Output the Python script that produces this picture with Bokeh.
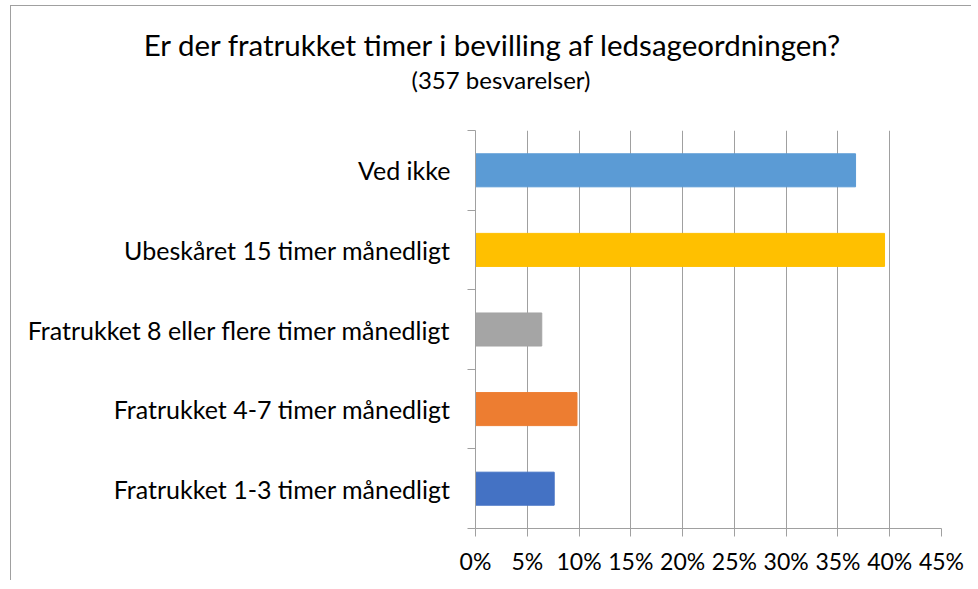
from bokeh.plotting import figure
from bokeh.models import FixedTicker, NumeralTickFormatter, Range1d, Div
from bokeh.layouts import column
from bokeh.embed import file_html
from bokeh.resources import INLINE

# Data (bottom to top)
categories = [
    "Fratrukket 1-3 timer månedligt",
    "Fratrukket 4-7 timer månedligt",
    "Fratrukket 8 eller flere timer månedligt",
    "Ubeskåret 15 timer månedligt",
    "Ved ikke",
]
shares = [0.076, 0.098, 0.064, 0.395, 0.367]
colors = ["#4472C4", "#ED7D31", "#A5A5A5", "#FFC000", "#5B9BD5"]
x_ticks = [0, 0.05, 0.10, 0.15, 0.20, 0.25, 0.30, 0.35, 0.40, 0.45]
title_text = "Er der fratrukket timer i bevilling af ledsageordningen?"
subtitle_text = "(357 besvarelser)"

FONT = "Lato"

n = len(categories)
centers = [i + 0.5 for i in range(n)]

W = 960
DIV_H = 110
BL, BT, FW, FH = 464, 14, 466, 398

header = Div(
    width=W, height=DIV_H, margin=0,
    text=(
        f'<div style="position:relative;width:{W}px;height:{DIV_H}px;">'
        f'<div style="position:absolute;left:0;width:962px;top:24px;text-align:center;'
        f'font-family:Lato;font-size:29.5px;line-height:29.5px;color:black;white-space:nowrap;">'
        f'{title_text}</div>'
        f'<div style="position:absolute;left:9px;width:962px;top:62px;text-align:center;'
        f'font-family:Lato;font-size:24px;line-height:24px;color:black;white-space:nowrap;">'
        f'{subtitle_text}</div>'
        f'</div>'
    ),
    styles={"background-color": "white"},
)

p = figure(
    width=W, height=BT + FH + 52, margin=0,
    x_range=Range1d(0, 0.45), y_range=Range1d(0, n),
    output_backend="svg", toolbar_location=None, title=None,
    min_border_left=BL, min_border_right=W - BL - FW,
    min_border_top=BT, min_border_bottom=52,
)
p.outline_line_color = None
p.background_fill_color = "white"
p.border_fill_color = "white"

p.hbar(y=centers, right=shares, left=0, height=0.415, color=colors)

# x axis
p.xaxis.ticker = FixedTicker(ticks=x_ticks)
p.xaxis.formatter = NumeralTickFormatter(format="0%")
p.xaxis.axis_line_color = "#A0A0A0"
p.xaxis.major_tick_line_color = "#A0A0A0"
p.xaxis.major_tick_out = 8
p.xaxis.major_tick_in = 0
p.xaxis.minor_tick_line_color = None
p.xaxis.major_label_text_font = FONT
p.xaxis.major_label_text_font_size = "23px"
p.xaxis.major_label_text_color = "black"
p.xaxis.major_label_standoff = 10

# y axis
p.yaxis.ticker = FixedTicker(ticks=centers, minor_ticks=list(range(n + 1)))
p.yaxis.major_label_overrides = {c: lab for c, lab in zip(centers, categories)}
p.yaxis.axis_line_color = "#A0A0A0"
p.yaxis.major_tick_line_color = None
p.yaxis.major_tick_out = 0
p.yaxis.major_tick_in = 0
p.yaxis.minor_tick_line_color = "#A0A0A0"
p.yaxis.minor_tick_out = 8
p.yaxis.minor_tick_in = 0
p.yaxis.major_label_text_font = FONT
p.yaxis.major_label_text_font_size = "25px"
p.yaxis.major_label_text_color = "black"
p.yaxis.major_label_standoff = 17

# grid
p.xgrid.ticker = FixedTicker(ticks=x_ticks)
p.xgrid.grid_line_color = "#A0A0A0"
p.ygrid.grid_line_color = None

layout = column(
    header, p, spacing=0,
    styles={"border-left": "1px solid #A0A0A0", "border-top": "1px solid #A0A0A0",
            "margin-left": "10px", "margin-top": "5px", "background-color": "white"},
)

open("out.html", "w").write(file_html(layout, INLINE))
